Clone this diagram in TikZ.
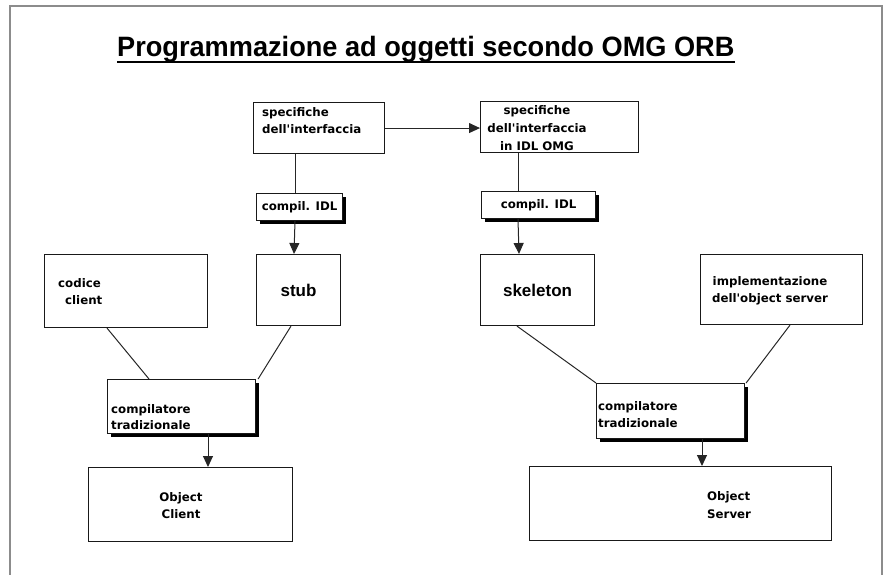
\documentclass[tikz,border=0pt]{standalone}
\usepackage{fontspec}
\usepackage{tikz}
\usetikzlibrary{positioning, calc, arrows.meta, shadows}
\newfontfamily\titlefont{Liberation Sans}
\newfontfamily\boxfont{DejaVu Sans}
\newcommand{\lblfont}{\boxfont\bfseries\fontsize{11.8}{17.5}\selectfont}
\newcommand{\lblwide}{\boxfont\bfseries\fontsize{11.8}{18}\selectfont}
\newcommand{\lbltight}{\boxfont\bfseries\fontsize{11.8}{16.5}\selectfont}
\newcommand{\bigfont}{\titlefont\bfseries\fontsize{17}{20}\selectfont}

\begin{document}
\begin{tikzpicture}[x=1pt, y=-1pt, >=Triangle,
    box/.style={draw=black!90, line width=1.1pt, fill=white, inner sep=0pt, anchor=north west},
    shadowbox/.style={box, drop shadow={shadow xshift=3pt, shadow yshift=-3pt, fill=black, opacity=1}},
    lbl/.style={font=\lblfont, inner sep=0pt, align=left},
    link/.style={draw=black!85, line width=1pt},
    arr/.style={link, -{Triangle[length=11pt, width=10pt]}}]

    \useasboundingbox (0,0) rectangle (887,575);

    % --- Frame (open at the bottom) ---
    \draw[black!45, line width=1.3pt] (10,575) -- (10,6) -- (882,6) -- (882,575);

    % --- Title ---
    \node[anchor=base west, inner sep=0pt, font=\titlefont\bfseries\fontsize{28}{30}\selectfont] (title) at (117,57)
        {\scalebox{0.97}[1]{Programmazione ad oggetti secondo OMG ORB}};
    \draw[line width=2pt] ([yshift=-5.5pt]title.base west) -- ([yshift=-5.5pt]title.base east);

    % --- Interface specs ---
    \node[box, minimum width=131, minimum height=51] (spec1) at (253,102) {};
    \node[lbl, anchor=west] (spec1-t) at (262,120.5) {specifiche\\dell'interfaccia};
    \node[box, minimum width=158, minimum height=51] (spec2) at (480,101) {};
    \node[lbl, align=center, font=\lblwide] (spec2-t) at (537,128)
        {specifiche\\dell'interfaccia\\in IDL OMG};

    % --- IDL compilers ---
    \node[shadowbox, minimum width=86, minimum height=27, font=\lblfont] (idl1) at (256,193) {compil. IDL};
    \node[shadowbox, minimum width=114, minimum height=27, font=\lblfont] (idl2) at (481,191) {compil. IDL};

    % --- Sources ---
    \node[box, minimum width=163, minimum height=73] (codice) at (44,254) {};
    \node[lbl, anchor=west] (codice-t) at (58,291.5) {codice\\\hspace*{7pt}client};
    \node[box, minimum width=84, minimum height=71, font=\bigfont] (stub) at (256,254) {stub};
    \node[box, minimum width=114, minimum height=71, font=\bigfont] (skel) at (480,254) {skeleton};
    \node[box, minimum width=162, minimum height=70] (impl) at (700,254) {};
    \node[lbl, align=center] (impl-t) at (770,291) {implementazione\\dell'object server};

    % --- Traditional compilers ---
    \node[shadowbox, minimum width=148, minimum height=54] (comp1) at (107,379) {};
    \node[lbl, anchor=west, font=\lbltight] (comp1-t) at (111,417) {compilatore\\tradizionale};
    \node[shadowbox, minimum width=148, minimum height=55] (comp2) at (596,383) {};
    \node[lbl, anchor=west, font=\lbltight] (comp2-t) at (598,414.5) {compilatore\\tradizionale};

    % --- Results ---
    \node[box, minimum width=204, minimum height=74] (oclient) at (88,467) {};
    \node[lbl, align=center] (oclient-t) at (181,505.5) {Object\\Client};
    \node[box, minimum width=302, minimum height=74] (oserver) at (529,466) {};
    \node[lbl, anchor=west] (oserver-t) at (707,505) {Object\\Server};

    % --- Connectors ---
    \draw[arr] (spec1.east) -- (spec1.east -| spec2.west);
    \draw[link] ([xshift=42pt]spec1.south west) -- ([xshift=39pt]idl1.north west);
    \draw[arr] ([xshift=39pt]idl1.south west) -- ([xshift=38pt]stub.north west);
    \draw[link] ([xshift=38pt]spec2.south west) -- ([xshift=37pt]idl2.north west);
    \draw[arr] ([xshift=37pt]idl2.south west) -- ([xshift=39pt]skel.north west);

    \draw[link] ([xshift=63pt]codice.south west) -- ([xshift=42pt]comp1.north west);
    \draw[link] ([xshift=35pt]stub.south west) -- ([xshift=2pt]comp1.north east);
    \draw[link] ([xshift=37pt]skel.south west) -- (comp2.north west);
    \draw[link] ([xshift=90pt]impl.south west) -- ([xshift=1pt]comp2.north east);

    \draw[arr] ([xshift=101pt]comp1.south west) -- ([xshift=120pt]oclient.north west);
    \draw[arr] ([xshift=106pt]comp2.south west) -- ([xshift=173pt]oserver.north west);

\end{tikzpicture}
\end{document}
